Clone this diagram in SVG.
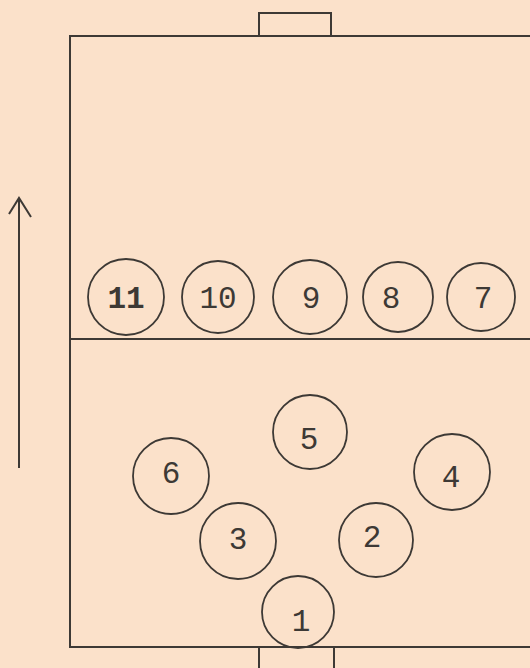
<svg xmlns="http://www.w3.org/2000/svg" width="530" height="668" viewBox="0 0 530 668">
<style>
.ln{fill:none;stroke:#3d3935;stroke-width:2}
.pc{fill:none;stroke:#3d3935;stroke-width:1.8}
.t{font-family:"Liberation Mono","DejaVu Sans Mono",monospace;font-size:31px;fill:#3d3935;text-anchor:middle;dominant-baseline:central}
</style>
<rect width="530" height="668" fill="#fbe1ca"/>
<g id="field">
<path class="ln" d="M530 36 H70 V647 H530"/>
<path class="ln" d="M70 339 H530"/>
<path class="ln" d="M259 36 V13 H331 V36"/>
<path class="ln" d="M259 668 V647 H334 V668"/>
</g>
<g id="connectors">
<path class="ln" d="M19 468 V198"/>
<path class="ln" d="M9 214 L19 198 L31 217"/>
</g>
<g id="p11"><circle class="pc" cx="126" cy="297" r="38"/><text class="t" x="126" y="299" font-weight="bold">11</text></g>
<g id="p10"><circle class="pc" cx="218" cy="297" r="36"/><text class="t" x="218" y="299">10</text></g>
<g id="p9"><circle class="pc" cx="310" cy="297" r="37"/><text class="t" x="311" y="299">9</text></g>
<g id="p8"><circle class="pc" cx="398" cy="297" r="35"/><text class="t" x="391" y="299">8</text></g>
<g id="p7"><circle class="pc" cx="481" cy="297" r="34"/><text class="t" x="483" y="299">7</text></g>
<g id="p5"><circle class="pc" cx="310" cy="432" r="37"/><text class="t" x="309" y="440">5</text></g>
<g id="p6"><circle class="pc" cx="171" cy="476" r="38"/><text class="t" x="171" y="474">6</text></g>
<g id="p4"><circle class="pc" cx="452" cy="472" r="38"/><text class="t" x="451" y="478">4</text></g>
<g id="p3"><circle class="pc" cx="238" cy="541" r="38"/><text class="t" x="238" y="540">3</text></g>
<g id="p2"><circle class="pc" cx="376" cy="540" r="37"/><text class="t" x="372" y="538">2</text></g>
<g id="p1"><circle class="pc" cx="298" cy="612" r="36"/><text class="t" x="301" y="622">1</text></g>
</svg>
